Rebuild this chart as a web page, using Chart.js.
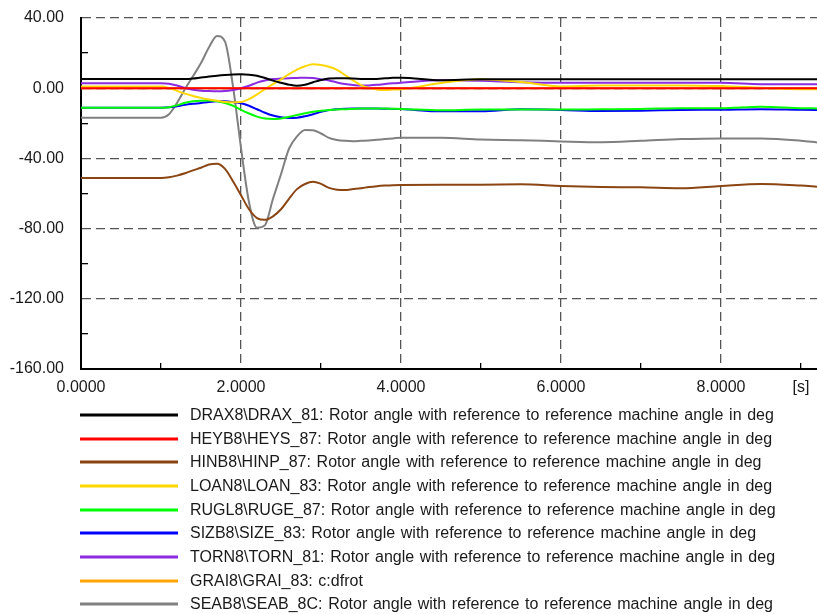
<!DOCTYPE html>
<html>
<head>
<meta charset="utf-8">
<script src="https://cdn.jsdelivr.net/npm/chart.js@4.4.1/dist/chart.umd.min.js"></script>
<style>
    html, body { margin: 0; padding: 0; background: #fff; }
    #wrap { width: 817px; height: 614px; }
</style>
</head>
<body>
<div id="wrap"><canvas id="rotor" width="817" height="614"></canvas></div>
<script>
// simulation time [s]
const times = [0, 1.0, 1.1, 1.2, 1.3, 1.4, 1.5, 1.6, 1.7, 1.8, 1.9,
    2.0, 2.1, 2.2, 2.3, 2.4, 2.5, 2.6, 2.7, 2.8, 2.9,
    3.0, 3.1, 3.2, 3.3, 3.4, 3.5, 3.6, 3.7, 3.8, 3.9,
    4.0, 4.5, 5.0, 5.5, 6.0, 6.5, 7.0, 7.5, 8.0, 8.5, 9.0, 9.2];

// rotor angles in deg
const drax = [5.2, 5.2, 5.2, 5.2, 5.2, 5.5, 6.1, 6.6, 7.1, 7.5, 7.8,
    7.9, 7.7, 7.1, 5.8, 4.3, 3.1, 2.0, 1.4, 2.0, 3.4,
    4.7, 5.5, 5.6, 5.6, 5.5, 5.3, 5.2, 5.3, 5.6, 5.9,
    6.0, 4.6, 5.1, 5.1, 5.1, 5.1, 5.1, 5.1, 5.1, 5.1, 5.1, 5.1];
const heys = [0, 0, 0, 0, 0, 0, 0, 0, 0, 0, 0,
    0, 0, 0, 0, 0, 0, 0, 0, 0, 0,
    0, 0, 0, 0, 0, 0, 0, 0, 0, 0,
    0, 0, 0, 0, 0, 0, 0, 0, 0, 0, 0, 0];
const hinp = [-51.2, -51.2, -50.8, -49.8, -48.5, -46.8, -45.3, -43.5, -43.1, -46.0, -53.0,
    -61.0, -69.0, -74.0, -75.0, -73.0, -69.0, -63.0, -57.5, -54.6, -53.3,
    -54.5, -56.8, -57.8, -58.0, -57.5, -57.0, -56.3, -55.8, -55.5, -55.3,
    -55.2, -55.0, -55.0, -54.8, -55.7, -56.3, -56.5, -57.0, -55.7, -54.6, -55.5, -56.1];
const loan = [1.0, 1.0, 0.2, -1.5, -3.1, -4.4, -5.5, -6.4, -7.2, -7.8, -8.0,
    -7.9, -6.2, -3.5, -0.5, 2.3, 5.0, 8.0, 10.6, 12.5, 13.6,
    13.2, 12.2, 10.5, 7.5, 4.5, 1.8, 0.2, -0.7, -1.0, -0.8,
    -0.6, 2.9, 5.1, 3.5, 1.0, 1.5, 1.5, 1.6, 1.2, 0.2, -0.6, -0.6];
const ruge = [-11.1, -11.1, -10.8, -9.8, -8.3, -7.5, -7.1, -7.0, -7.4, -8.4, -10.0,
    -12.3, -14.4, -16.2, -17.3, -17.5, -17.2, -16.3, -15.3, -14.3, -13.4,
    -12.8, -12.4, -12.1, -12.0, -11.8, -11.6, -11.5, -11.5, -11.6, -11.7,
    -11.8, -12.6, -12.2, -12.2, -12.2, -12.0, -11.8, -11.4, -11.4, -10.6, -11.4, -11.5];
const size = [-11.1, -11.1, -10.9, -10.3, -9.5, -8.9, -8.4, -7.8, -7.5, -7.5, -7.9,
    -8.6, -10.0, -12.0, -14.0, -15.6, -16.6, -17.0, -16.8, -16.0, -14.8,
    -13.5, -12.5, -12.0, -11.7, -11.5, -11.5, -11.6, -11.6, -11.7, -11.8,
    -11.9, -13.2, -13.2, -12.0, -12.4, -13.0, -12.8, -12.4, -12.3, -12.0, -12.3, -12.4];
const torn = [2.8, 2.8, 2.5, 1.5, 0.1, -0.9, -1.4, -1.6, -1.7, -1.6, -1.0,
    0.0, 1.4, 3.2, 4.4, 5.2, 5.5, 5.7, 5.8, 6.0, 5.8,
    5.0, 4.4, 3.3, 2.4, 1.8, 1.5, 1.6, 1.9, 2.4, 2.8,
    3.1, 4.5, 4.2, 3.4, 3.1, 3.1, 3.1, 3.1, 3.1, 2.3, 2.2, 2.2];
const grai = [0, 0, 0, 0, 0, 0, 0, 0, 0, 0, 0,
    0, 0, 0, 0, 0, 0, 0, 0, 0, 0,
    0, 0, 0, 0, 0, 0, 0, 0, 0, 0,
    0, 0, 0, 0, 0, 0, 0, 0, 0, 0, 0, 0];
const seab = [-16.8, -16.8, -14.8, -8.4, -0.5, 6.8, 14.3, 23.3, 29.8, 26.5, 1.0,
    -34.0, -65.0, -79.5, -78.0, -63.0, -49.0, -34.5, -27.5, -23.8, -24.0,
    -25.8, -28.3, -29.5, -30.0, -30.2, -30.0, -29.8, -29.4, -29.0, -28.6,
    -28.2, -28.2, -29.3, -29.6, -30.3, -30.8, -30.0, -29.0, -28.6, -28.6, -29.9, -30.9];

const seriesNames = [
    'DRAX8\\DRAX_81: Rotor angle with reference to reference machine angle in deg',
    'HEYB8\\HEYS_87: Rotor angle with reference to reference machine angle in deg',
    'HINB8\\HINP_87: Rotor angle with reference to reference machine angle in deg',
    'LOAN8\\LOAN_83: Rotor angle with reference to reference machine angle in deg',
    'RUGL8\\RUGE_87: Rotor angle with reference to reference machine angle in deg',
    'SIZB8\\SIZE_83: Rotor angle with reference to reference machine angle in deg',
    'TORN8\\TORN_81: Rotor angle with reference to reference machine angle in deg',
    'GRAI8\\GRAI_83: c:dfrot',
    'SEAB8\\SEAB_8C: Rotor angle with reference to reference machine angle in deg'
];
const seriesValues = [drax, heys, hinp, loan, ruge, size, torn, grai, seab];
const seriesColors = ['#000000', '#ff0000', '#8b4513', '#ffd700', '#00ff00',
    '#0000ff', '#8a2be2', '#ffa500', '#808080'];

const fontFamily = '"Liberation Sans", Arial, sans-serif';
const gridColor = '#555555';

const toPoints = function (values) {
    return values.map(function (v, i) {
        return {x: times[i], y: v};
    });
};

// legend drawn under the axes, one row per signal
const legendRows = {
    id: 'legendRows',
    afterDraw: function (chart) {
        let ctx = chart.ctx;
        let top = chart.scales.x.bottom + 16;
        ctx.save();
        ctx.font = '16px ' + fontFamily;
        ctx.textBaseline = 'middle';
        ctx.textAlign = 'left';
        if ('wordSpacing' in ctx) ctx.wordSpacing = '1.2px';
        chart.data.datasets.forEach(function (ds, i) {
            let y = Math.round(top + i * 23.65);
            ctx.strokeStyle = ds.borderColor;
            ctx.lineWidth = 3;
            ctx.beginPath();
            ctx.moveTo(80, y);
            ctx.lineTo(178, y);
            ctx.stroke();
            ctx.fillStyle = '#1a1a1a';
            ctx.fillText(ds.label, 190, y + 1);
        });
        ctx.restore();
    }
};

new Chart(document.getElementById('rotor'), {
    type: 'line',
    data: {
        datasets: seriesNames.map(function (name, i) {
            return {
                label: name,
                data: toPoints(seriesValues[i]),
                borderColor: seriesColors[i],
                backgroundColor: seriesColors[i],
                borderWidth: 2,
                pointRadius: 0,
                cubicInterpolationMode: 'monotone',
                fill: false
            };
        })
    },
    options: {
        responsive: false,
        animation: false,
        layout: {padding: {top: 18, right: 0, bottom: 215, left: 0}},
        plugins: {
            legend: {display: false},
            tooltip: {enabled: false}
        },
        scales: {
            x: {
                type: 'linear',
                min: 0,
                max: 9.2,
                afterFit: function (scale) {
                    scale.height = 30;
                    scale.paddingLeft = 0;
                    scale.paddingRight = 0;
                },
                border: {display: true, color: '#000', width: 2, dash: [9, 5]},
                grid: {
                    color: function (c) {
                        let v = c.tick ? c.tick.value : 0;
                        return (v > 0 && v % 2 === 0) ? gridColor : 'rgba(0,0,0,0)';
                    },
                    lineWidth: 1.3,
                    drawTicks: true,
                    tickLength: -6,
                    tickWidth: 1.3,
                    tickColor: function (c) {
                        let v = c.tick ? c.tick.value : 0;
                        return (v % 2 === 1) ? '#000' : 'rgba(0,0,0,0)';
                    }
                },
                ticks: {
                    stepSize: 1,
                    includeBounds: false,
                    autoSkip: false,
                    maxRotation: 0,
                    padding: 15,
                    color: '#1a1a1a',
                    font: {family: fontFamily, size: 16},
                    callback: function (value) {
                        if (value === 9) return '[s]';
                        return value % 2 === 0 ? value.toFixed(4) : '';
                    }
                }
            },
            y: {
                min: -160,
                max: 40,
                afterFit: function (scale) {
                    scale.width = 81;
                    scale.paddingTop = 0;
                    scale.paddingBottom = 0;
                },
                border: {display: true, color: '#000', width: 2, dash: [9, 5]},
                grid: {
                    color: function (c) {
                        let v = c.tick ? c.tick.value : 0;
                        return (v % 40 === 0 && v > -160) ? gridColor : 'rgba(0,0,0,0)';
                    },
                    lineWidth: 1.3,
                    drawTicks: true,
                    tickLength: -7,
                    tickWidth: 1.3,
                    tickColor: function (c) {
                        let v = c.tick ? c.tick.value : 0;
                        return (v % 40 !== 0) ? '#000' : 'rgba(0,0,0,0)';
                    }
                },
                ticks: {
                    stepSize: 20,
                    autoSkip: false,
                    padding: 24,
                    color: '#1a1a1a',
                    font: {family: fontFamily, size: 16},
                    callback: function (value) {
                        return value % 40 === 0 ? value.toFixed(2) : '';
                    }
                }
            }
        }
    },
    plugins: [legendRows]
});
</script>
</body>
</html>
